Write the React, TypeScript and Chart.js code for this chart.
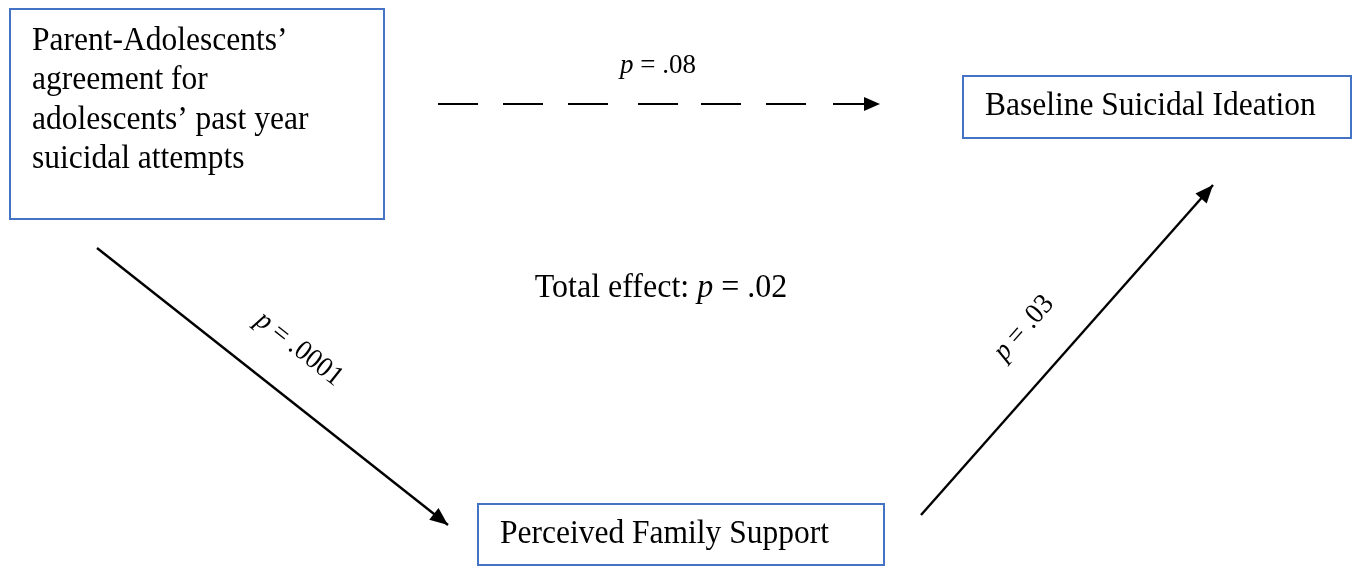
import React, { useEffect, useRef } from "react";
import { Chart, registerables } from "chart.js";

Chart.register(...registerables);

const W = 1358;
const H = 567;

// ---- Nodes (variables of the mediation model) ----
const nodeLines: string[][] = [
  ["Parent-Adolescents’", "agreement for", "adolescents’ past year", "suicidal attempts"],
  ["Baseline Suicidal Ideation"],
  ["Perceived Family Support"],
];
const nodeBoxLeft = [10, 963, 478];
const nodeBoxTop = [9, 76, 504];
const nodeBoxRight = [384, 1351, 884];
const nodeBoxBottom = [219, 138, 565];
const nodeTextX = [32, 985, 500];
const nodeTextBaseline = [50, 115, 543];

// ---- Paths ----
const pathPValues = [".08", ".0001", ".03"];
const totalEffectP = ".02";

// direct path (dashed) from predictor to outcome
const directDashStartX = [438, 503, 568, 638, 701, 766];
const directDashLength = 40;
const directY = 104;
const directArrowStartX = 833;
const directArrowTipX = 880;

// a path: predictor -> mediator
const aPathX = [97, 448];
const aPathY = [248, 525];
// b path: mediator -> outcome
const bPathX = [921, 1213];
const bPathY = [515, 185];

// label placements
const directLabelX = 658;
const directLabelY = 73;
const aLabelX = 299;
const aLabelY = 349;
const bLabelX = 1024;
const bLabelY = 328;
const totalLabelX = 661;
const totalLabelY = 297;

const FONT = '"Liberation Serif", "Times New Roman", serif';
const BLUE = "#4472C4";
const TEXT_VSCALE = 1.05;

type Part = { text: string; italic?: boolean };

function drawRich(ctx: CanvasRenderingContext2D, parts: Part[], size: number, x: number, y: number) {
  let total = 0;
  const widths = parts.map((p) => {
    ctx.font = `${p.italic ? "italic " : ""}${size}px ${FONT}`;
    const w = ctx.measureText(p.text).width;
    total += w;
    return w;
  });
  ctx.save();
  ctx.translate(x, y);
  ctx.scale(1, TEXT_VSCALE);
  let cx = -total / 2;
  parts.forEach((p, i) => {
    ctx.font = `${p.italic ? "italic " : ""}${size}px ${FONT}`;
    ctx.textAlign = "left";
    ctx.fillText(p.text, cx, 0);
    cx += widths[i];
  });
  ctx.restore();
}

function pParts(v: string): Part[] {
  return [{ text: "p", italic: true }, { text: " = " + v }];
}

export default function App() {
  const ref = useRef<HTMLCanvasElement | null>(null);

  useEffect(() => {
    document.body.style.margin = "0";
    const canvas = ref.current;
    if (!canvas) return;

    const directData: any[] = [];
    directDashStartX.forEach((x) => {
      directData.push({ x, y: directY });
      directData.push({ x: x + directDashLength, y: directY });
      directData.push({ x: x + directDashLength + 1, y: null });
    });
    directData.push({ x: directArrowStartX, y: directY });
    directData.push({ x: directArrowTipX - 4, y: directY });

    const aData = aPathX.map((x, i) => ({ x, y: aPathY[i] }));
    const bData = bPathX.map((x, i) => ({ x, y: bPathY[i] }));

    const diagramPlugin = {
      id: "diagram",
      beforeDatasetsDraw(chart: any) {
        const ctx: CanvasRenderingContext2D = chart.ctx;
        const xs = chart.scales.x;
        const ys = chart.scales.y;
        ctx.save();
        nodeLines.forEach((lines, i) => {
          const x0 = xs.getPixelForValue(nodeBoxLeft[i]);
          const x1 = xs.getPixelForValue(nodeBoxRight[i]);
          const y0 = ys.getPixelForValue(nodeBoxTop[i]);
          const y1 = ys.getPixelForValue(nodeBoxBottom[i]);
          ctx.fillStyle = "#ffffff";
          ctx.fillRect(x0, y0, x1 - x0, y1 - y0);
          ctx.strokeStyle = BLUE;
          ctx.lineWidth = 2;
          ctx.strokeRect(x0, y0, x1 - x0, y1 - y0);
          ctx.fillStyle = "#000000";
          ctx.font = `31.5px ${FONT}`;
          ctx.textAlign = "left";
          ctx.textBaseline = "alphabetic";
          lines.forEach((line, j) => {
            ctx.save();
            ctx.translate(
              xs.getPixelForValue(nodeTextX[i]),
              ys.getPixelForValue(nodeTextBaseline[i] + j * 39.3)
            );
            ctx.scale(1, TEXT_VSCALE);
            ctx.fillText(line, 0, 0);
            ctx.restore();
          });
        });
        ctx.restore();
      },
      afterDatasetsDraw(chart: any) {
        const ctx: CanvasRenderingContext2D = chart.ctx;
        const xs = chart.scales.x;
        const ys = chart.scales.y;
        ctx.save();
        ctx.fillStyle = "#000000";
        const heads = [
          [directArrowStartX, directY, directArrowTipX, directY, 16, 7],
          [aPathX[0], aPathY[0], aPathX[1], aPathY[1], 18, 7.5],
          [bPathX[0], bPathY[0], bPathX[1], bPathY[1], 18, 7.5],
        ];
        heads.forEach(([sx, sy, tx, ty, len, hw]) => {
          const px0 = xs.getPixelForValue(sx);
          const py0 = ys.getPixelForValue(sy);
          const px1 = xs.getPixelForValue(tx);
          const py1 = ys.getPixelForValue(ty);
          const ang = Math.atan2(py1 - py0, px1 - px0);
          ctx.save();
          ctx.translate(px1, py1);
          ctx.rotate(ang);
          ctx.beginPath();
          ctx.moveTo(0, 0);
          ctx.lineTo(-len, -hw);
          ctx.lineTo(-len, hw);
          ctx.closePath();
          ctx.fill();
          ctx.restore();
        });

        ctx.textBaseline = "alphabetic";
        drawRich(ctx, pParts(pathPValues[0]), 27, xs.getPixelForValue(directLabelX), ys.getPixelForValue(directLabelY));

        const aAng = Math.atan2(
          ys.getPixelForValue(aPathY[1]) - ys.getPixelForValue(aPathY[0]),
          xs.getPixelForValue(aPathX[1]) - xs.getPixelForValue(aPathX[0])
        );
        ctx.save();
        ctx.translate(xs.getPixelForValue(aLabelX), ys.getPixelForValue(aLabelY));
        ctx.rotate(aAng);
        ctx.textBaseline = "middle";
        drawRich(ctx, pParts(pathPValues[1]), 27, 0, 0);
        ctx.restore();

        const bAng = Math.atan2(
          ys.getPixelForValue(bPathY[1]) - ys.getPixelForValue(bPathY[0]),
          xs.getPixelForValue(bPathX[1]) - xs.getPixelForValue(bPathX[0])
        );
        ctx.save();
        ctx.translate(xs.getPixelForValue(bLabelX), ys.getPixelForValue(bLabelY));
        ctx.rotate(bAng);
        ctx.textBaseline = "middle";
        drawRich(ctx, pParts(pathPValues[2]), 27, 0, 0);
        ctx.restore();

        ctx.textBaseline = "alphabetic";
        drawRich(
          ctx,
          [{ text: "Total effect: " }, { text: "p", italic: true }, { text: " = " + totalEffectP }],
          32,
          xs.getPixelForValue(totalLabelX),
          ys.getPixelForValue(totalLabelY)
        );
        ctx.restore();
      },
    };

    const lineStyle = {
      showLine: true,
      pointRadius: 0,
      borderColor: "#000000",
      spanGaps: false,
      fill: false,
      clip: false as any,
    };

    const chart = new Chart(canvas, {
      type: "scatter",
      data: {
        datasets: [
          { label: "direct", data: directData, ...lineStyle, borderWidth: 2 },
          { label: "a", data: aData, ...lineStyle, borderWidth: 2.4 },
          { label: "b", data: bData, ...lineStyle, borderWidth: 2.4 },
        ],
      },
      options: {
        animation: false,
        responsive: false,
        devicePixelRatio: 1,
        layout: { padding: 0 },
        events: [],
        plugins: { legend: { display: false }, tooltip: { enabled: false }, title: { display: false } },
        scales: {
          x: { type: "linear", min: 0, max: W, display: false },
          y: { type: "linear", min: 0, max: H, reverse: true, display: false },
        },
      },
      plugins: [diagramPlugin],
    });

    return () => chart.destroy();
  }, []);

  return (
    <div style={{ width: W, height: H, background: "#ffffff" }}>
      <canvas ref={ref} width={W} height={H} style={{ display: "block" }} />
    </div>
  );
}
